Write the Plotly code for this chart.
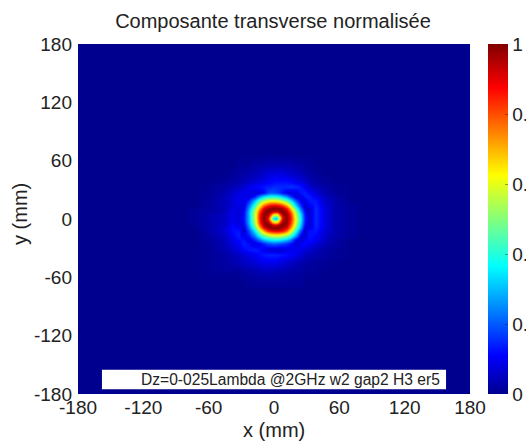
import numpy as np
import plotly.graph_objects as go

x_mm = [-72,-59,-46,-38,-33,-28,-23,-18,-13,-9.5,-6,-3.5,-1.2,1,3.2,5.5,8,11.5,15,20,24,28,32,38,46,56,70]
y_mm = [-65,-54,-45,-37,-31,-25,-21,-16.5,-12,-9,-5.5,-3.2,-1,1,3,5.2,7.5,11,14,18.5,23,27,33,39,47,56,67]
ticks_mm = [-180,-120,-60,0,60,120,180]
tick_labels = ["-180","-120","-60","0","60","120","180"]
cbar_ticks = [0,0.2,0.4,0.6,0.8,1]
cbar_labels = ["0","0.2","0.4","0.6","0.8","1"]
title_text = "Composante transverse normalisée"
note_text = "Dz=0-025Lambda @2GHz w2 gap2 H3 er5"
x_label = "x (mm)"
y_label = "y (mm)"

# Normalised amplitude in percent, rows from the bottom of the map to the top
amp_pct = [
[0,0,0,0,0,0,1,1,1,1,1,1,1,1,1,1,1,1,1,1,1,0,0,0,0,0,0],
[0,1,1,1,1,2,2,3,3,4,4,4,4,3,3,3,3,3,2,2,2,1,1,1,0,0,0],
[0,1,2,3,4,5,6,7,8,9,9,9,9,9,8,8,7,6,5,4,3,2,2,1,1,0,0],
[0,1,2,4,5,7,8,10,12,13,14,14,14,14,14,13,13,12,11,9,7,5,4,3,2,1,0],
[0,1,3,6,8,11,13,14,12,9,7,6,6,6,6,6,7,8,9,10,9,7,6,4,2,1,0],
[0,1,4,8,10,14,12,7,10,14,18,19,20,20,19,18,17,15,12,7,10,12,10,7,4,2,0],
[0,2,4,9,12,13,7,15,23,30,34,36,37,37,37,36,34,30,24,10,6,10,12,10,5,2,0],
[0,2,5,10,14,8,13,24,38,47,53,56,57,58,58,57,55,50,41,27,9,6,13,11,6,3,1],
[0,3,6,12,13,6,18,35,56,72,84,88,90,91,91,90,87,78,62,40,19,5,12,13,7,3,1],
[0,3,6,12,10,7,23,44,70,88,97,99,100,100,100,99,96,90,73,49,27,8,7,14,8,3,1],
[1,3,5,11,8,9,26,50,80,96,100,98,92,90,92,97,100,96,80,55,31,12,6,15,8,3,1],
[1,3,5,10,7,11,28,53,84,98,98,85,72,68,72,85,98,98,83,58,33,13,6,15,8,3,1],
[1,3,5,9,7,12,29,55,86,99,92,68,48,42,48,70,94,99,85,60,35,14,6,15,8,3,1],
[1,3,5,9,7,12,29,56,87,99,90,62,38,28,38,64,92,99,86,60,35,14,6,15,8,3,1],
[1,3,5,9,7,12,29,56,87,99,93,70,50,42,48,68,92,99,85,58,34,14,6,15,8,3,1],
[1,3,5,9,7,11,30,56,85,98,98,86,74,68,72,85,98,98,82,56,32,13,6,15,8,3,1],
[1,2,4,9,7,10,29,55,82,96,100,97,92,90,92,98,100,95,78,52,28,11,6,15,8,3,1],
[1,2,4,8,8,9,26,50,74,91,97,99,100,100,100,99,96,87,69,44,22,8,5,15,8,3,1],
[0,2,4,7,9,8,22,42,64,78,86,90,91,91,90,88,83,72,55,33,16,6,10,14,7,3,1],
[0,2,4,7,10,8,14,30,46,55,60,62,62,62,60,58,53,46,35,20,9,8,13,13,6,3,0],
[0,1,4,7,9,9,7,14,26,34,38,40,40,39,38,36,32,26,17,7,8,13,14,10,5,2,0],
[0,1,3,6,8,9,9,7,8,11,17,19,19,18,17,15,12,9,7,9,13,14,11,7,3,1,0],
[0,1,2,4,5,7,9,11,12,13,14,14,15,15,15,15,15,15,16,15,13,10,7,4,2,1,0],
[0,0,1,2,3,4,5,7,8,9,10,11,11,12,12,12,12,12,11,9,8,6,4,2,1,0,0],
[0,0,0,1,2,2,3,4,5,6,7,8,8,8,8,8,8,7,6,5,4,3,2,1,0,0,0],
[0,0,0,0,1,1,1,2,2,3,3,3,3,3,3,3,3,3,3,2,2,1,1,0,0,0,0],
[0,0,0,0,0,0,0,0,0,0,0,0,0,0,0,0,0,0,0,0,0,0,0,0,0,0,0],
]

jet = [[0,"#00008f"],[0.11,"#0000ff"],[0.365,"#00ffff"],[0.625,"#ffff00"],[0.875,"#ff0000"],[1,"#800000"]]
FONT = "Liberation Sans, Arial, sans-serif"
TXT = "#222222"

fig = go.Figure(go.Heatmap(
    x=x_mm, y=y_mm, z=np.array(amp_pct)/100, zmin=0, zmax=1, zsmooth="best",
    colorscale=jet, hoverinfo="skip",
    colorbar=dict(thickness=20, x=1.0459, xanchor="left", y=0.5, yanchor="middle", len=1, lenmode="fraction",
                  ypad=0, xpad=0, outlinewidth=0, tickvals=cbar_ticks, ticktext=cbar_labels,
                  ticks="inside", ticklen=3, tickcolor="rgba(60,0,0,0.4)", tickwidth=1,
                  tickfont=dict(size=19, family=FONT, color=TXT)),
))
axis = dict(range=[-180,180], tickvals=ticks_mm, ticktext=tick_labels, ticks="", showgrid=False, zeroline=False,
            tickfont=dict(size=19, family=FONT, color=TXT), showline=False)
fig.update_layout(
    width=526, height=441, paper_bgcolor="white", plot_bgcolor="#00008f",
    margin=dict(l=78, r=56, t=44, b=47, autoexpand=False),
    xaxis=dict(axis),
    yaxis=dict(axis, ticklabelstandoff=5),
    title=dict(text=title_text, x=273/526, xanchor="center", y=1-21/441, yanchor="middle",
               font=dict(size=20, family=FONT, color=TXT)),
    shapes=[dict(type="rect", xref="x", yref="y", x0=-158, x1=158, y0=-175, y1=-155,
                 fillcolor="white", line=dict(width=0))],
    annotations=[
        dict(text=note_text, xref="x", yref="y", x=154, y=-165, xanchor="right", yanchor="middle",
             showarrow=False, font=dict(size=15.6, family=FONT, color=TXT)),
        dict(text=x_label, xref="x", yref="paper", x=0, y=-36/350, xanchor="center", yanchor="middle",
             showarrow=False, font=dict(size=20, family=FONT, color=TXT)),
        dict(text=y_label, xref="paper", yref="paper", x=-58/392, y=(394-214)/350, xanchor="center", yanchor="middle",
             textangle=-90, showarrow=False, font=dict(size=20, family=FONT, color=TXT)),
    ],
)
fig.write_html("out.html", config={"displayModeBar": False},
               post_script="document.body.style.margin='0';document.documentElement.style.overflow='hidden';")
